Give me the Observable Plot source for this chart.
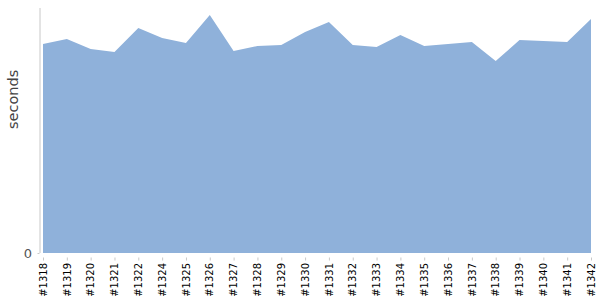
<!DOCTYPE html>
<html>
<head>
<meta charset="utf-8">
<script src="https://cdn.jsdelivr.net/npm/d3@7"></script>
<script src="https://cdn.jsdelivr.net/npm/@observablehq/plot@0.6"></script>
<style>
  html, body { margin: 0; padding: 0; background: #fff; }
  #chart svg { display: block; }
</style>
</head>
<body>
<div id="chart"></div>
<script>
const builds = ["#1318","#1319","#1320","#1321","#1322","#1324","#1325","#1326","#1327","#1328","#1329","#1330","#1331","#1332","#1333","#1334","#1335","#1336","#1337","#1338","#1339","#1340","#1341","#1342"];
const seconds = [209,214,204,201,225,215,210,238,202,207,208,221,231,208,206,218,207,209,211,192,213,212,211,234];
const yTicks = [0];

const data = builds.map((b, i) => ({build: b, seconds: seconds[i]}));

const chart = Plot.plot({
  width: 600,
  height: 300,
  marginLeft: 43,
  marginRight: 9,
  marginTop: 4,
  marginBottom: 47,
  style: {fontFamily: "DejaVu Sans, sans-serif", background: "#fff"},
  x: {type: "point", domain: builds, padding: 0, round: false},
  y: {domain: [0, 249]},
  marks: [
    Plot.areaY(data, {x: "build", y: "seconds", fill: "#8fb1da", curve: "linear"}),
    Plot.ruleX([builds[0]], {stroke: "#c8c8c8", dx: -3.5, y1: 0, y2: 249, insetBottom: -4}),
    Plot.ruleY([0], {stroke: "#c8c8c8", dy: 4.5, x1: builds[0], x2: builds[builds.length - 1], insetLeft: -3}),
    Plot.axisX({ticks: builds, tickSize: 3, dy: 4.5, text: null, stroke: "#c8c8c8", label: null}),
    Plot.axisX({ticks: builds, tickSize: 0, dy: 4.5, tickRotate: -90, tickPadding: 5, fontSize: 10, fill: "#000", label: null}),
    Plot.axisY({ticks: yTicks, tickSize: 2, dx: -3.5, text: null, stroke: "#c8c8c8", label: null}),
    Plot.axisY({ticks: yTicks, tickSize: 0, dx: -3.5, tickPadding: 8, fontSize: 13, fill: "#555", label: null}),
    Plot.text(["seconds"], {frameAnchor: "left", dx: -30, rotate: -90, fontSize: 14.5, fill: "#444"})
  ]
});
document.getElementById("chart").appendChild(chart);
</script>
</body>
</html>
